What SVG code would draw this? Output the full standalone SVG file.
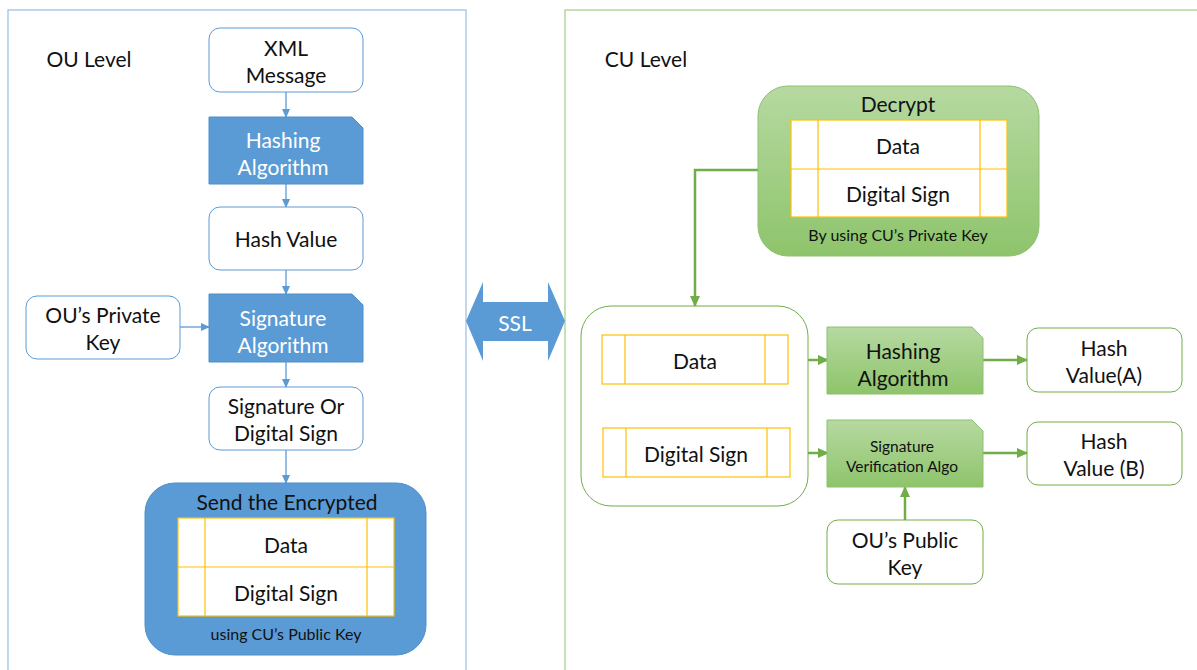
<svg xmlns="http://www.w3.org/2000/svg" width="1197" height="670" viewBox="0 0 1197 670">
<style>
text{font-family:Lato,"Liberation Sans",sans-serif;fill:#111;text-anchor:middle;dominant-baseline:central}
.t{font-size:21px}
.w{fill:#fff}
.s{font-size:16px}
.n{font-size:15.5px}
.bb{fill:#fff;stroke:#5B9BD5;stroke-width:1}
.gb{fill:#fff;stroke:#70AD47;stroke-width:1}
.bf{fill:#5B9BD5;stroke:#4F8FC8;stroke-width:1}
.gf{fill:url(#gg);stroke:#8DC070;stroke-width:1}
.tbl{fill:#fff;stroke:#FFC000;stroke-width:1.2}
.bl{stroke:#5B9BD5;stroke-width:1.3;fill:none}
.gl{stroke:#70AD47;stroke-width:2.5;fill:none}
</style>
<defs>
<linearGradient id="gg" x1="0" y1="0" x2="0" y2="1"><stop offset="0" stop-color="#B6D9A1"/><stop offset="1" stop-color="#8EC46B"/></linearGradient>
<marker id="ab" markerWidth="10" markerHeight="10" refX="8" refY="5" orient="auto" markerUnits="userSpaceOnUse"><path d="M0,1 L9,5 L0,9 z" fill="#5B9BD5"/></marker>
<marker id="ag" markerWidth="12" markerHeight="12" refX="10" refY="6" orient="auto" markerUnits="userSpaceOnUse"><path d="M0,1 L11,6 L0,11 z" fill="#70AD47"/></marker>
</defs>
<rect width="1197" height="670" fill="#fff"/>
<g id="panels">
<rect x="8" y="10" width="458" height="680" fill="none" stroke="#9DC3E6" stroke-width="1.3"/>
<rect x="565" y="10" width="650" height="680" fill="none" stroke="#A9D18E" stroke-width="1.3"/>
<text x="89" y="58" class="t">OU Level</text>
<text x="646" y="58" class="t">CU Level</text>
</g>
<g id="connectors">
<line x1="286" y1="92" x2="286" y2="117" class="bl" marker-end="url(#ab)"/>
<line x1="286" y1="184" x2="286" y2="207" class="bl" marker-end="url(#ab)"/>
<line x1="286" y1="270" x2="286" y2="294" class="bl" marker-end="url(#ab)"/>
<line x1="180" y1="327" x2="209" y2="327" class="bl" marker-end="url(#ab)"/>
<line x1="286" y1="362" x2="286" y2="387" class="bl" marker-end="url(#ab)"/>
<line x1="286" y1="450" x2="286" y2="483" class="bl" marker-end="url(#ab)"/>
<polyline points="758,170 695,170 695,306" class="gl" marker-end="url(#ag)"/>
<line x1="788" y1="360" x2="828" y2="360" class="gl" marker-end="url(#ag)"/>
<line x1="790" y1="453" x2="828" y2="453" class="gl" marker-end="url(#ag)"/>
<line x1="983" y1="360" x2="1027" y2="360" class="gl" marker-end="url(#ag)"/>
<line x1="983" y1="453" x2="1027" y2="453" class="gl" marker-end="url(#ag)"/>
<line x1="905" y1="520" x2="905" y2="487" class="gl" marker-end="url(#ag)"/>
</g>
<g id="xml"><rect x="209" y="28" width="154" height="64" rx="11" class="bb"/><text x="286" y="47" class="t">XML</text><text x="286" y="74" class="t">Message</text></g>
<g id="hash1"><path d="M209,117 H352 L363,128 V184 H209 Z" class="bf"/><text x="283" y="139" class="t w">Hashing</text><text x="283" y="166" class="t w">Algorithm</text></g>
<g id="hashval"><rect x="209" y="207" width="154" height="63" rx="11" class="bb"/><text x="286" y="238" class="t">Hash Value</text></g>
<g id="sigalg"><path d="M209,294 H352 L363,305 V362 H209 Z" class="bf"/><text x="283" y="317" class="t w">Signature</text><text x="283" y="344" class="t w">Algorithm</text></g>
<g id="privkey"><rect x="26" y="296" width="154" height="63" rx="11" class="bb"/><text x="103" y="314" class="t">OU’s Private</text><text x="103" y="341" class="t">Key</text></g>
<g id="sig"><rect x="209" y="387" width="154" height="63" rx="11" class="bb"/><text x="286" y="405" class="t">Signature Or</text><text x="286" y="432" class="t">Digital Sign</text></g>
<g id="send">
<rect x="145" y="483" width="281" height="172" rx="30" class="bf"/>
<text x="287" y="501" class="t">Send the Encrypted</text>
<rect x="178" y="518" width="216" height="98" class="tbl"/>
<line x1="178" y1="567" x2="394" y2="567" class="tbl"/>
<line x1="205" y1="518" x2="205" y2="616" class="tbl"/>
<line x1="367" y1="518" x2="367" y2="616" class="tbl"/>
<text x="286" y="544" class="t">Data</text>
<text x="286" y="592" class="t">Digital Sign</text>
<text x="286" y="633" class="s">using CU’s Public Key</text>
</g>
<g id="ssl"><path d="M466,321 L483,282 V302 H548 V282 L565,321 L548,361 V341 H483 V361 Z" fill="#5B9BD5"/><text x="515" y="322" class="t w">SSL</text></g>
<g id="decrypt">
<rect x="758" y="86" width="281" height="170" rx="30" class="gf"/>
<text x="898" y="103" class="t">Decrypt</text>
<rect x="791" y="120" width="216" height="97" class="tbl"/>
<line x1="791" y1="169" x2="1007" y2="169" class="tbl"/>
<line x1="818" y1="120" x2="818" y2="217" class="tbl"/>
<line x1="980" y1="120" x2="980" y2="217" class="tbl"/>
<text x="898" y="145" class="t">Data</text>
<text x="898" y="193" class="t">Digital Sign</text>
<text x="898" y="234" class="s">By using CU’s Private Key</text>
</g>
<g id="received">
<rect x="581" y="306" width="227" height="200" rx="30" class="gb" stroke="#8DC070"/>
<rect x="602" y="335" width="186" height="49" class="tbl"/>
<line x1="625" y1="335" x2="625" y2="384" class="tbl"/>
<line x1="765" y1="335" x2="765" y2="384" class="tbl"/>
<text x="695" y="360" class="t">Data</text>
<rect x="603" y="428" width="187" height="49" class="tbl"/>
<line x1="626" y1="428" x2="626" y2="477" class="tbl"/>
<line x1="767" y1="428" x2="767" y2="477" class="tbl"/>
<text x="696" y="453" class="t">Digital Sign</text>
</g>
<g id="hash2"><path d="M827,327 H972 L983,338 V394 H827 Z" class="gf"/><text x="903" y="350" class="t">Hashing</text><text x="903" y="377" class="t">Algorithm</text></g>
<g id="hva"><rect x="1027" y="328" width="155" height="64" rx="11" class="gb"/><text x="1104" y="347" class="t">Hash</text><text x="1104" y="374" class="t">Value(A)</text></g>
<g id="sigver"><path d="M827,420 H972 L983,431 V487 H827 Z" class="gf"/><text x="902" y="446" class="n">Signature</text><text x="902" y="466" class="n">Verification Algo</text></g>
<g id="hvb"><rect x="1027" y="422" width="155" height="63" rx="11" class="gb"/><text x="1104" y="440" class="t">Hash</text><text x="1104" y="467" class="t">Value (B)</text></g>
<g id="pubkey"><rect x="827" y="520" width="156" height="64" rx="11" class="gb"/><text x="905" y="539" class="t">OU’s Public</text><text x="905" y="566" class="t">Key</text></g>
</svg>
